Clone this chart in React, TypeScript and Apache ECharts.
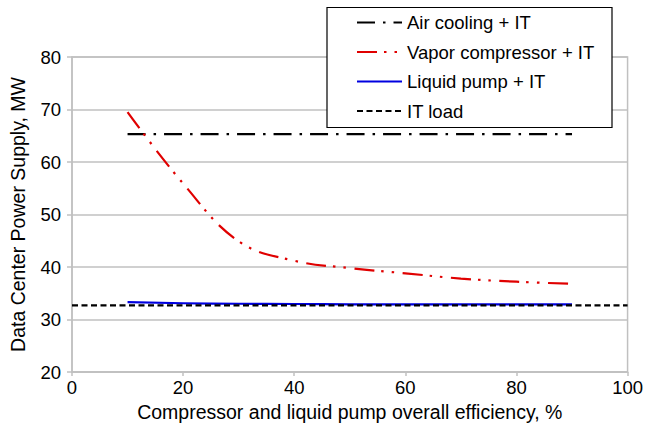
import React, { useEffect, useRef } from "react";
import * as echarts from "echarts";

const efficiency = [10, 20, 30, 40, 50, 60, 70, 80, 90];
const vaporCompressor = [69.5, 55.9, 44.9, 41.2, 39.8, 38.8, 37.8, 37.2, 36.8];
const liquidPump = [33.3, 33.1, 33.0, 32.95, 32.9, 32.9, 32.9, 32.9, 32.9];
const airCoolingX = [10, 90];
const airCooling = [65.3, 65.3];
const itLoadX = [0, 100];
const itLoad = [32.7, 32.7];
const seriesNames = ["Air cooling + IT", "Vapor compressor + IT", "Liquid pump + IT", "IT load"];

const pairs = (xs: number[], ys: number[]) => xs.map((x, i) => [x, ys[i]]);

export default function App() {
  const ref = useRef<HTMLDivElement>(null);
  useEffect(() => {
    if (!ref.current) return;
    const chart = echarts.init(ref.current, undefined, { renderer: "svg" });
    const font = "'Liberation Sans', Arial, sans-serif";
    const gray = "#c0c0c0";
    chart.setOption({
      animation: false,
      textStyle: { fontFamily: font },
      grid: {
        left: 72,
        right: 18,
        top: 57,
        bottom: 58,
        show: true,
        borderColor: gray,
        borderWidth: 1.5,
      },
      graphic: [
        {
          type: "rect",
          shape: { x: 327, y: 7.5, width: 285, height: 120 },
          style: { fill: "#fff", stroke: "#000", lineWidth: 1.2 },
          z: 10,
        },
      ],
      legend: {
        orient: "vertical",
        left: 351,
        top: 7,
        itemWidth: 45,
        itemHeight: 14,
        itemGap: 8.5,
        z: 20,
        data: seriesNames,
        itemStyle: { opacity: 0 },
        textStyle: { fontFamily: font, fontSize: 18.5, lineHeight: 21, color: "#000" },
      },
      xAxis: {
        type: "value",
        min: 0,
        max: 100,
        interval: 20,
        name: "Compressor and liquid pump overall efficiency, %",
        nameLocation: "middle",
        nameGap: 28,
        nameTextStyle: { fontFamily: font, fontSize: 19.5, color: "#000" },
        axisLine: { lineStyle: { color: gray, width: 1.5 } },
        axisTick: { show: true, length: 4, lineStyle: { color: gray, width: 1.5 } },
        axisLabel: { fontFamily: font, fontSize: 18.5, color: "#000", margin: 6 },
        splitLine: { show: false },
      },
      yAxis: {
        type: "value",
        min: 20,
        max: 80,
        interval: 10,
        name: "Data Center Power Supply, MW",
        nameLocation: "middle",
        nameGap: 44,
        nameTextStyle: { fontFamily: font, fontSize: 19.5, color: "#000" },
        axisLine: { show: true, lineStyle: { color: gray, width: 1.5 } },
        axisTick: { show: true, length: 5, lineStyle: { color: gray, width: 1.5 } },
        axisLabel: { fontFamily: font, fontSize: 18.5, color: "#000", margin: 11 },
        splitLine: { show: true, lineStyle: { color: gray, width: 1.5 } },
      },
      series: [
        {
          name: seriesNames[0],
          type: "line",
          showSymbol: false,
          symbol: "none",
          data: pairs(airCoolingX, airCooling),
          lineStyle: { color: "#000", width: 2.2, type: [18, 8, 2.5, 8], cap: "butt" },
          itemStyle: { color: "#000" },
          z: 3,
        },
        {
          name: seriesNames[1],
          type: "line",
          showSymbol: false,
          symbol: "none",
          smooth: 0.4,
          data: pairs(efficiency, vaporCompressor),
          lineStyle: { color: "#e00000", width: 2.2, type: [20, 7, 2.5, 8, 2.5, 8.5], cap: "butt" },
          itemStyle: { color: "#e00000" },
          z: 4,
        },
        {
          name: seriesNames[2],
          type: "line",
          showSymbol: false,
          symbol: "none",
          smooth: true,
          data: pairs(efficiency, liquidPump),
          lineStyle: { color: "#0000e0", width: 2.2 },
          itemStyle: { color: "#0000e0" },
          z: 2,
        },
        {
          name: seriesNames[3],
          type: "line",
          showSymbol: false,
          symbol: "none",
          data: pairs(itLoadX, itLoad),
          lineStyle: { color: "#000", width: 2.2, type: [6, 3.5], cap: "butt" },
          itemStyle: { color: "#000" },
          z: 5,
        },
      ],
    });
    return () => chart.dispose();
  }, []);
  return <div ref={ref} style={{ width: 646, height: 430, position: "absolute", left: 0, top: 0 }} />;
}
